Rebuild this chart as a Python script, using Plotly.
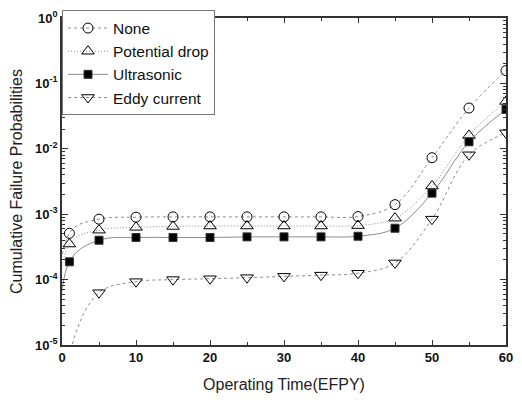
import plotly.graph_objects as go

# Operating time (EFPY); t = 0 starts every curve from (near) zero probability
time_efpy = [0, 1, 5, 10, 15, 20, 25, 30, 35, 40, 45, 50, 55, 60]

# Cumulative failure probabilities by inspection method
p_none = [1e-7, 5.1e-4, 8.4e-4, 9.0e-4, 9.1e-4, 9.1e-4, 9.1e-4, 9.1e-4, 9.1e-4, 9.2e-4,
          1.4e-3, 7.3e-3, 4.2e-2, 1.57e-1]
p_potential = [1e-7, 3.5e-4, 5.7e-4, 6.3e-4, 6.5e-4, 6.6e-4, 6.6e-4, 6.6e-4, 6.6e-4, 6.7e-4,
               8.7e-4, 2.7e-3, 1.6e-2, 5.3e-2]
p_ultrasonic = [1e-7, 1.87e-4, 4.0e-4, 4.4e-4, 4.4e-4, 4.4e-4, 4.5e-4, 4.5e-4, 4.5e-4, 4.6e-4,
                6.1e-4, 2.1e-3, 1.28e-2, 4.0e-2]
p_eddy = [1e-8, 7e-6, 6.3e-5, 9.3e-5, 1.0e-4, 1.03e-4, 1.07e-4, 1.12e-4, 1.17e-4, 1.25e-4,
          1.8e-4, 8.4e-4, 8.1e-3, 1.75e-2]

series_names = ["None", "Potential drop", "Ultrasonic", "Eddy current"]

y_tickvals = [1e-5, 1e-4, 1e-3, 1e-2, 1e-1, 1]
y_ticktext = ["<b>10<sup>-5</sup></b>", "<b>10<sup>-4</sup></b>", "<b>10<sup>-3</sup></b>",
              "<b>10<sup>-2</sup></b>", "<b>10<sup>-1</sup></b>", "<b>10<sup>0</sup></b>"]
x_tickvals = [0, 10, 20, 30, 40, 50, 60]

styles = [
    dict(values=p_none, dash="3px,3px", symbol="circle-open", size=10),
    dict(values=p_potential, dash="1px,2px", symbol="triangle-up-open", size=11),
    dict(values=p_ultrasonic, dash="solid", symbol="square", size=8),
    dict(values=p_eddy, dash="3px,3px", symbol="triangle-down-open", size=11),
]

fig = go.Figure()
for name, st in zip(series_names, styles):
    fig.add_trace(go.Scatter(
        x=time_efpy, y=st["values"], name=name,
        mode="lines+markers",
        line=dict(color="#8c8c8c", width=1, dash=st["dash"], shape="spline", smoothing=1.0),
        marker=dict(symbol=st["symbol"], size=st["size"], color="black",
                    line=dict(color="#333333", width=1)),
    ))

axis_font = dict(family="Arial, Liberation Sans, sans-serif", size=16, color="#222222")
tick_font = dict(family="Arial, Liberation Sans, sans-serif", size=13, color="#111111")

fig.update_layout(
    width=522, height=400,
    margin=dict(l=62, r=9, t=15, b=55),
    paper_bgcolor="white", plot_bgcolor="white",
    showlegend=True,
    legend=dict(
        x=0, y=1.023, xanchor="left", yanchor="top",
        bgcolor="white", bordercolor="#777777", borderwidth=1,
        font=dict(family="Arial, Liberation Sans, sans-serif", size=15.5, color="#111111"),
        tracegroupgap=0, itemwidth=40,
    ),
    xaxis=dict(
        range=[0, 60], tickvals=x_tickvals,
        ticktext=[f"<b>{v}</b>" for v in x_tickvals],
        ticks="inside", ticklen=5, tickwidth=1, tickcolor="#333333",
        minor=dict(dtick=5, ticks="inside", ticklen=3, tickcolor="#333333"),
        showline=True, linecolor="#333333", linewidth=1.5, mirror="allticks",
        showgrid=False, zeroline=False, tickfont=tick_font,
        title=dict(text="Operating Time(EFPY)", font=axis_font, standoff=14),
    ),
    yaxis=dict(
        type="log", range=[-5, 0], tickvals=y_tickvals, ticktext=y_ticktext,
        ticks="inside", ticklen=6, tickwidth=1, tickcolor="#333333",
        minor=dict(ticks="inside", ticklen=3, tickcolor="#333333", dtick="D1"),
        showline=True, linecolor="#333333", linewidth=1.5, mirror="allticks",
        showgrid=False, zeroline=False, tickfont=tick_font,
        title=dict(text="Cumulative Failure Probabilities", font=axis_font, standoff=8),
    ),
)

fig.write_html("out.html")
